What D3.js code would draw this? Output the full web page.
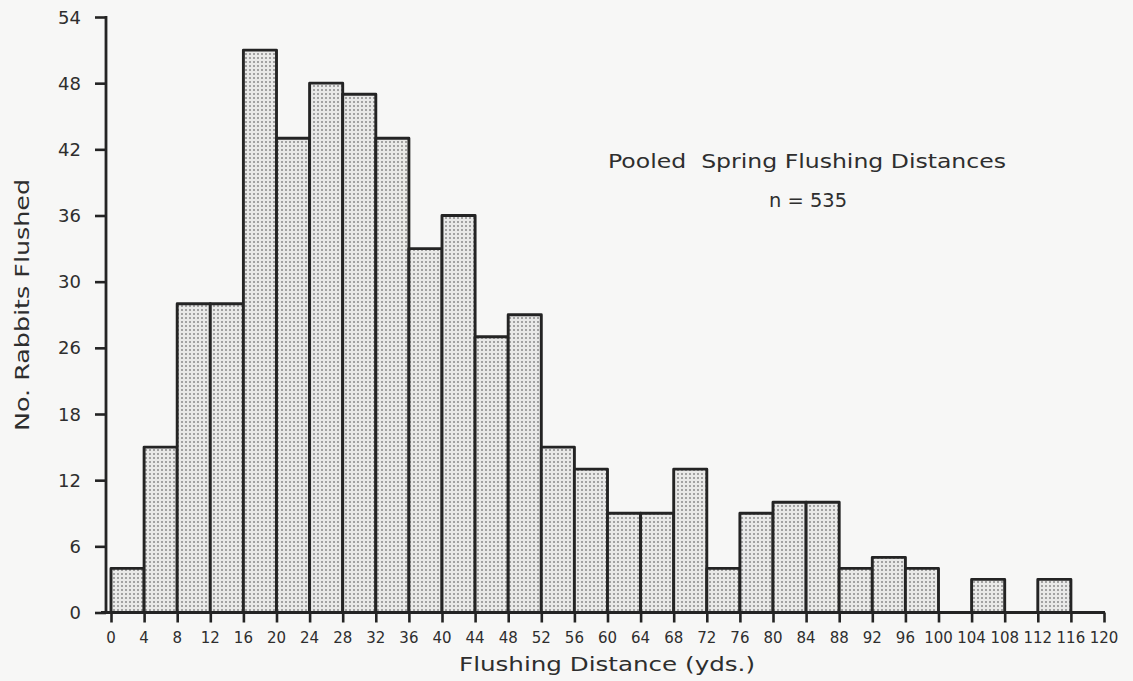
<!DOCTYPE html>
<html>
<head>
<meta charset="utf-8">
<script src="https://cdn.jsdelivr.net/npm/d3@7/dist/d3.min.js"></script>
<style>
  html, body { margin: 0; padding: 0; background: #f7f7f6; }
  svg { display: block; }
  text { font-family: "DejaVu Sans", sans-serif; fill: #2e2e2e; }
  text.ylab { font-size: 18px; }
  text.xlab { font-size: 15px; }
</style>
</head>
<body>
<svg id="chart" width="1133" height="681"></svg>
<script>
// Class intervals (yards): lower edge of each 4-yard bin
const binStarts = [0, 4, 8, 12, 16, 20, 24, 28, 32, 36, 40, 44, 48, 52, 56,
                   60, 64, 68, 72, 76, 80, 84, 88, 92, 96, 100, 104, 108, 112, 116];
// Number of rabbits flushed in each bin
const counts = [4, 15, 28, 28, 51, 43, 48, 47, 43, 33, 36, 25, 27, 15, 13,
                9, 9, 13, 4, 9, 10, 10, 4, 5, 4, 0, 3, 0, 3, 0];
const binWidth = 4;

// Axis ticks and their printed labels
const xTickValues = d3.range(0, 121, 4);
const yTickValues = [0, 6, 12, 18, 24, 30, 36, 42, 48, 54];
const yTickLabels = ["0", "6", "12", "18", "26", "30", "36", "42", "48", "54"];

const titleLines = ["Pooled  Spring Flushing Distances", "n = 535"];
const xTitle = "Flushing Distance (yds.)";
const yTitle = "No. Rabbits Flushed";

const svg = d3.select("#chart");
const ink = "#242424";

const x = d3.scaleLinear().domain([0, 120]).range([111, 1104]);
const y = d3.scaleLinear().domain([0, 54]).range([612.5, 17]);
const yAxisX = 106;

// stipple fill for the bars
const defs = svg.append("defs");
const pat = defs.append("pattern")
  .attr("id", "stipple")
  .attr("width", 4).attr("height", 4)
  .attr("patternUnits", "userSpaceOnUse");
pat.append("rect").attr("width", 4).attr("height", 4).attr("fill", "#e9e9e8");
pat.append("circle").attr("cx", 2).attr("cy", 2).attr("r", 0.8).attr("fill", "#484848");

const data = binStarts.map((s, i) => ({ start: s, count: counts[i] }));

// histogram bars
svg.append("g")
  .selectAll("rect")
  .data(data.filter(d => d.count > 0))
  .join("rect")
  .attr("x", d => x(d.start))
  .attr("y", d => y(d.count))
  .attr("width", d => x(d.start + binWidth) - x(d.start))
  .attr("height", d => y(0) - y(d.count))
  .attr("fill", "url(#stipple)")
  .attr("stroke", ink)
  .attr("stroke-width", 2.9)
  .attr("stroke-linejoin", "round");

// x axis: tick marks from d3.axisBottom, labels set separately
const gx = svg.append("g")
  .attr("transform", `translate(0,${y(0)})`)
  .call(d3.axisBottom(x).tickValues(xTickValues).tickSize(10).tickFormat(""));
gx.select(".domain").remove();
gx.selectAll(".tick line").attr("stroke", ink).attr("stroke-width", 2.6);
svg.append("g")
  .selectAll("text")
  .data(xTickValues)
  .join("text")
  .attr("class", "xlab")
  .attr("x", d => x(d))
  .attr("y", y(0) + 30)
  .attr("text-anchor", "middle")
  .attr("font-size", 15)
  .text(d => String(d));
svg.append("line")
  .attr("x1", yAxisX - 5).attr("x2", x(120) + 1)
  .attr("y1", y(0)).attr("y2", y(0))
  .attr("stroke", ink).attr("stroke-width", 2.8);

// y axis: tick marks from d3.axisLeft, labels set separately
const gy = svg.append("g")
  .attr("transform", `translate(${yAxisX},0)`)
  .call(d3.axisLeft(y).tickValues(yTickValues).tickSize(11).tickFormat(""));
gy.select(".domain").remove();
gy.selectAll(".tick line").attr("stroke", ink).attr("stroke-width", 2.6);
svg.append("g")
  .selectAll("text")
  .data(yTickValues)
  .join("text")
  .attr("class", "ylab")
  .attr("x", 81)
  .attr("y", d => y(d) + 6.5)
  .attr("text-anchor", "end")
  .attr("font-size", 18)
  .text((d, i) => yTickLabels[i]);
svg.append("line")
  .attr("x1", yAxisX).attr("x2", yAxisX)
  .attr("y1", y(54) - 1).attr("y2", y(0) + 1)
  .attr("stroke", ink).attr("stroke-width", 2.8);

// axis titles
svg.append("text")
  .attr("x", 607).attr("y", 671)
  .attr("text-anchor", "middle")
  .attr("font-size", 20)
  .attr("textLength", 296).attr("lengthAdjust", "spacingAndGlyphs")
  .text(xTitle);

svg.append("text")
  .attr("transform", "translate(29,305) rotate(-90)")
  .attr("text-anchor", "middle")
  .attr("font-size", 20)
  .attr("textLength", 252).attr("lengthAdjust", "spacingAndGlyphs")
  .text(yTitle);

// annotation
svg.append("text")
  .attr("x", 807).attr("y", 168)
  .attr("text-anchor", "middle")
  .attr("font-size", 19.5)
  .attr("textLength", 398).attr("lengthAdjust", "spacingAndGlyphs")
  .attr("xml:space", "preserve")
  .text(titleLines[0]);
svg.append("text")
  .attr("x", 808).attr("y", 207)
  .attr("text-anchor", "middle")
  .attr("font-size", 19.5)
  .attr("textLength", 78).attr("lengthAdjust", "spacingAndGlyphs")
  .text(titleLines[1]);
</script>
</body>
</html>
